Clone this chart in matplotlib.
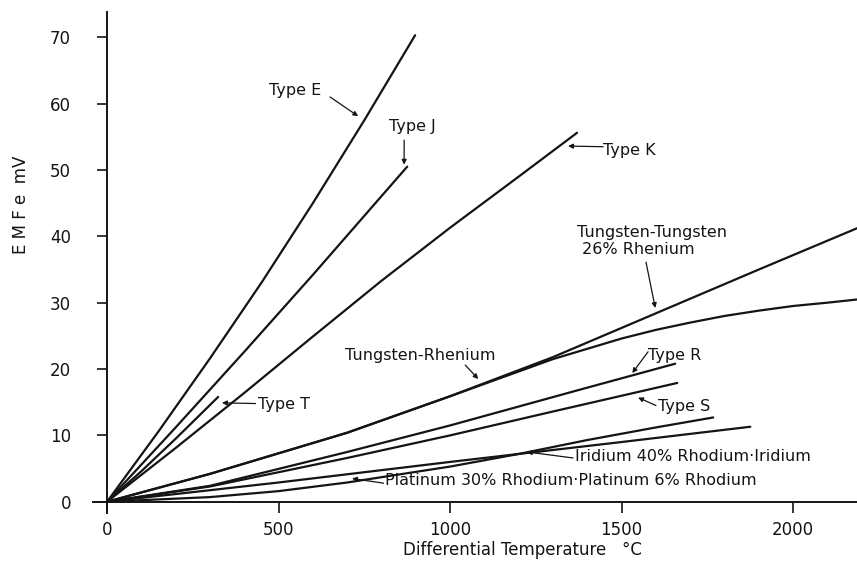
import matplotlib
matplotlib.use("Agg")
import matplotlib.pyplot as plt

# ---- data ----
type_e_x = [0, 150, 300, 450, 600, 750, 898]
type_e_y = [0, 10.6, 21.6, 33.0, 45.0, 57.5, 70.3]

type_j_x = [0, 200, 400, 600, 875]
type_j_y = [0, 11.2, 22.6, 34.2, 50.5]

type_k_x = [0, 200, 400, 600, 800, 1000, 1200, 1370]
type_k_y = [0, 8.1, 16.4, 24.9, 33.3, 41.3, 49.0, 55.6]

type_t_x = [0, 100, 200, 324]
type_t_y = [0, 4.6, 9.5, 15.8]

w_w26re_x = [0, 300, 700, 1000, 1300, 1600, 1900, 2190]
w_w26re_y = [0, 4.2, 10.4, 15.9, 21.8, 28.4, 35.0, 41.3]

w_re_x = [0, 300, 700, 1000, 1300, 1500, 1600, 1700, 1800, 1900, 2000, 2100, 2190]
w_re_y = [0, 4.2, 10.4, 15.9, 21.5, 24.6, 25.9, 27.0, 28.0, 28.8, 29.5, 30.0, 30.5]

type_r_x = [0, 300, 700, 1000, 1379, 1656]
type_r_y = [0, 2.4, 7.5, 11.5, 16.9, 20.8]

type_s_x = [0, 300, 700, 1000, 1300, 1662]
type_s_y = [0, 2.3, 6.6, 10.0, 13.6, 17.9]

ir_rh_x = [0, 500, 1000, 1500, 1875]
ir_rh_y = [0, 2.9, 6.0, 9.0, 11.3]

pt_rh_x = [0, 300, 500, 700, 1000, 1200, 1400, 1600, 1767]
pt_rh_y = [0, 0.7, 1.6, 2.9, 5.3, 7.2, 9.3, 11.2, 12.7]

x_ticks = [0, 500, 1000, 1500, 2000]
y_ticks = [0, 10, 20, 30, 40, 50, 60, 70]

series = [
    (type_e_x, type_e_y), (type_j_x, type_j_y), (type_k_x, type_k_y),
    (type_t_x, type_t_y), (w_w26re_x, w_w26re_y), (w_re_x, w_re_y),
    (type_r_x, type_r_y), (type_s_x, type_s_y), (ir_rh_x, ir_rh_y),
    (pt_rh_x, pt_rh_y),
]

# (label, text pos, arrow start, arrow tip, ha)
labels = [
    ("Type E", (548, 62.0), (650, 61.0), (732, 58.1), "center"),
    ("Type J", (889, 56.6), (866, 54.5), (866, 50.8), "center"),
    ("Type K", (1446, 53.0), (1446, 53.5), (1344, 53.6), "left"),
    ("Tungsten-Tungsten\n 26% Rhenium", (1370, 39.3), (1571, 36.1), (1598, 29.2), "left"),
    ("Tungsten-Rhenium", (694, 22.1), (1044, 20.6), (1082, 18.5), "left"),
    ("Type R", (1577, 22.1), (1577, 22.6), (1531, 19.4), "left"),
    ("Type S", (1606, 14.3), (1600, 14.5), (1548, 15.7), "left"),
    ("Iridium 40% Rhodium·Iridium", (1364, 6.8), (1358, 6.6), (1224, 7.5), "left"),
    ("Platinum 30% Rhodium·Platinum 6% Rhodium", (810, 3.2), (806, 2.8), (714, 3.5), "left"),
    ("Type T", (440, 14.6), (433, 14.8), (335, 14.9), "left"),
]

ink = "#141414"

fig = plt.figure(figsize=(8.57, 5.67), dpi=100)
fig.patch.set_facecolor("white")
ax = fig.add_axes([0.1089, 0.0952, 0.8911, 0.8836])

for xs, ys in series:
    ax.plot(xs, ys, color=ink, lw=1.6, solid_capstyle="round",
            solid_joinstyle="round")

for text, tpos, astart, atip, ha in labels:
    ax.text(tpos[0], tpos[1], text, ha=ha, va="center", fontsize=11.5,
            color=ink, linespacing=1.15)
    ax.annotate("", xy=atip, xytext=astart,
                arrowprops=dict(arrowstyle="-|>", color=ink, lw=0.9,
                                mutation_scale=7, shrinkA=0, shrinkB=0))

ax.set_xlim(-40, 2186)
ax.set_ylim(-1.7, 73.8)
ax.spines["left"].set_position(("data", 0))
ax.spines["bottom"].set_position(("data", 0))
ax.spines["top"].set_visible(False)
ax.spines["right"].set_visible(False)
for s in ("left", "bottom"):
    ax.spines[s].set_linewidth(1.4)
    ax.spines[s].set_color(ink)

ax.set_xticks(x_ticks)
ax.set_yticks(y_ticks)
ax.set_xticklabels([str(v) for v in x_ticks])
ax.set_yticklabels([str(v) for v in y_ticks])
ax.tick_params(axis="y", direction="out", length=7, width=1.2, pad=19,
               labelsize=12, colors=ink)
ax.tick_params(axis="x", direction="out", length=8, width=1.2, pad=6,
               labelsize=12, colors=ink)
ax.patch.set_alpha(0)

fig.text(0.024, 0.638, "E M F e  mV", rotation=90, ha="center", va="center",
         fontsize=12, color=ink)
fig.text(0.61, 0.030, "Differential Temperature   °C", ha="center", va="center",
         fontsize=12, color=ink)

fig.savefig("out.png", dpi=100, facecolor="white")
